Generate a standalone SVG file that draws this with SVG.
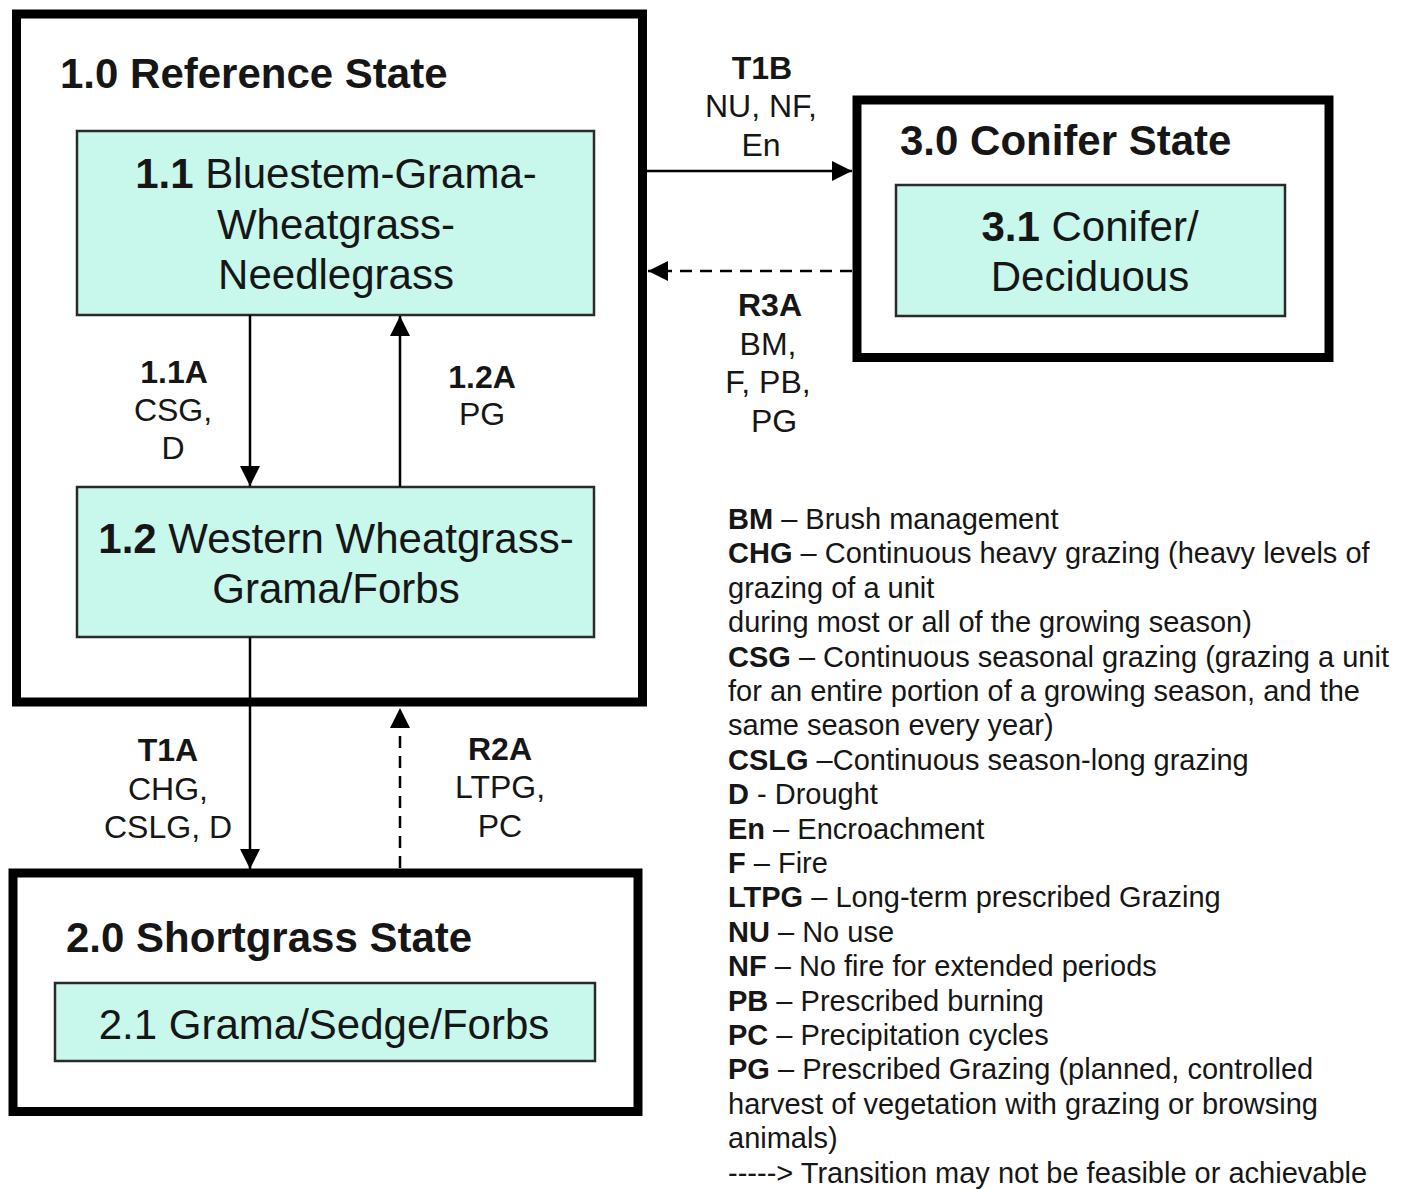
<svg xmlns="http://www.w3.org/2000/svg" width="1405" height="1189" viewBox="0 0 1405 1189">
<style>
text{font-family:"Liberation Sans",Arial,sans-serif;fill:#161616}
.state{fill:#fff;stroke:#000;stroke-width:9}
.comm{fill:#c8f7ec;stroke:#2a2a2a;stroke-width:2.5}
.title{font-size:42px;font-weight:bold}
.big{font-size:42px;text-anchor:middle}
.lbl{font-size:32px;text-anchor:middle}
.leg{font-size:29px}
b,.b{font-weight:bold}
.conn{stroke:#000;stroke-width:2.5;fill:none}
.dash{stroke-dasharray:12 8}
</style>
<defs>
<marker id="ah" viewBox="0 0 20 20" refX="20" refY="10" markerWidth="20" markerHeight="20" markerUnits="userSpaceOnUse" orient="auto">
<path d="M0,0 L20,10 L0,20 z" fill="#000"/>
</marker>
</defs>
<rect width="1405" height="1189" fill="#fff"/>

<g id="state1">
<rect class="state" x="16.5" y="14" width="626" height="688"/>
<text class="title" x="60" y="88">1.0 Reference State</text>
</g>
<g id="comm11">
<rect class="comm" x="77" y="131" width="517" height="184"/>
<text class="big" x="336" y="188"><tspan class="b">1.1</tspan> Bluestem-Grama-</text>
<text class="big" x="336" y="239">Wheatgrass-</text>
<text class="big" x="336" y="289">Needlegrass</text>
</g>
<g id="comm12">
<rect class="comm" x="77" y="487" width="517" height="150"/>
<text class="big" x="336" y="553"><tspan class="b">1.2</tspan> Western Wheatgrass-</text>
<text class="big" x="336" y="603">Grama/Forbs</text>
</g>
<g id="state3">
<rect class="state" x="857" y="100" width="472" height="257.5"/>
<text class="title" x="900" y="155">3.0 Conifer State</text>
</g>
<g id="comm31">
<rect class="comm" x="896" y="185" width="389" height="131"/>
<text class="big" x="1090" y="241"><tspan class="b">3.1</tspan> Conifer/</text>
<text class="big" x="1090" y="291">Deciduous</text>
</g>
<g id="state2">
<rect class="state" x="13" y="873" width="625" height="238.5"/>
<text class="title" x="66" y="952">2.0 Shortgrass State</text>
</g>
<g id="comm21">
<rect class="comm" x="55" y="983" width="540" height="78"/>
<text class="big" x="324" y="1039">2.1 Grama/Sedge/Forbs</text>
</g>

<g id="connectors">
<line class="conn" x1="250" y1="315" x2="250" y2="486" marker-end="url(#ah)"/>
<line class="conn" x1="400" y1="487" x2="400" y2="316" marker-end="url(#ah)"/>
<line class="conn" x1="250" y1="637" x2="250" y2="869" marker-end="url(#ah)"/>
<line class="conn dash" x1="400" y1="868" x2="400" y2="708" marker-end="url(#ah)"/>
<line class="conn" x1="647" y1="171" x2="852" y2="171" marker-end="url(#ah)"/>
<line class="conn dash" x1="852" y1="271" x2="648" y2="271" marker-end="url(#ah)"/>
</g>

<g id="labels">
<text class="lbl b" x="762" y="79">T1B</text>
<text class="lbl" x="761" y="117">NU, NF,</text>
<text class="lbl" x="761" y="156">En</text>
<text class="lbl b" x="770" y="316">R3A</text>
<text class="lbl" x="768" y="355">BM,</text>
<text class="lbl" x="768" y="393">F, PB,</text>
<text class="lbl" x="774" y="432">PG</text>
<text class="lbl b" x="174" y="383">1.1A</text>
<text class="lbl" x="173" y="421">CSG,</text>
<text class="lbl" x="173" y="459">D</text>
<text class="lbl b" x="482" y="388">1.2A</text>
<text class="lbl" x="482" y="425">PG</text>
<text class="lbl b" x="168" y="761">T1A</text>
<text class="lbl" x="168" y="800">CHG,</text>
<text class="lbl" x="168" y="838">CSLG, D</text>
<text class="lbl b" x="500" y="760">R2A</text>
<text class="lbl" x="500" y="798">LTPG,</text>
<text class="lbl" x="500" y="837">PC</text>
</g>

<g id="legend" class="leg">
<text class="leg" x="728" y="529"><tspan class="b">BM</tspan> – Brush management</text>
<text class="leg" x="728" y="563.4"><tspan class="b">CHG</tspan> – Continuous heavy grazing (heavy levels of</text>
<text class="leg" x="728" y="597.8">grazing of a unit</text>
<text class="leg" x="728" y="632.2">during most or all of the growing season)</text>
<text class="leg" x="728" y="666.6"><tspan class="b">CSG</tspan> – Continuous seasonal grazing (grazing a unit</text>
<text class="leg" x="728" y="701">for an entire portion of a growing season, and the</text>
<text class="leg" x="728" y="735.4">same season every year)</text>
<text class="leg" x="728" y="769.8"><tspan class="b">CSLG</tspan> –Continuous season-long grazing</text>
<text class="leg" x="728" y="804.2"><tspan class="b">D</tspan> - Drought</text>
<text class="leg" x="728" y="838.6"><tspan class="b">En</tspan> – Encroachment</text>
<text class="leg" x="728" y="873"><tspan class="b">F</tspan> – Fire</text>
<text class="leg" x="728" y="907.4"><tspan class="b">LTPG</tspan> – Long-term prescribed Grazing</text>
<text class="leg" x="728" y="941.8"><tspan class="b">NU</tspan> – No use</text>
<text class="leg" x="728" y="976.2"><tspan class="b">NF</tspan> – No fire for extended periods</text>
<text class="leg" x="728" y="1010.6"><tspan class="b">PB</tspan> – Prescribed burning</text>
<text class="leg" x="728" y="1045"><tspan class="b">PC</tspan> – Precipitation cycles</text>
<text class="leg" x="728" y="1079.4"><tspan class="b">PG</tspan> – Prescribed Grazing (planned, controlled</text>
<text class="leg" x="728" y="1113.8">harvest of vegetation with grazing or browsing</text>
<text class="leg" x="728" y="1148.2">animals)</text>
<text class="leg" x="728" y="1182.6">-----&gt; Transition may not be feasible or achievable</text>
</g>
</svg>
